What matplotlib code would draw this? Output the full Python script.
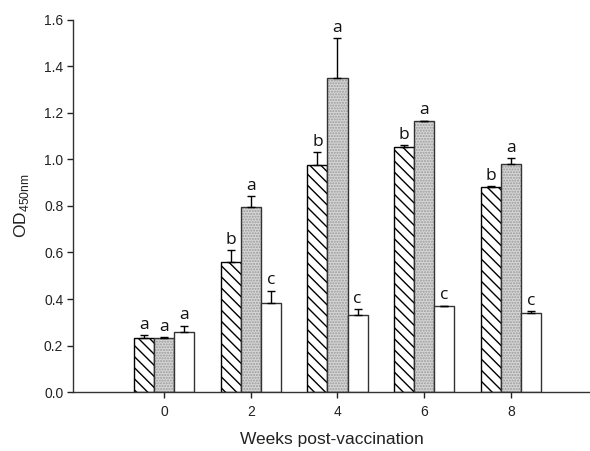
import matplotlib
matplotlib.use('Agg')
import matplotlib.pyplot as plt
import numpy as np

# data
weeks = ['0', '2', '4', '6', '8']
hatched = [0.233, 0.557, 0.976, 1.054, 0.883]
hatched_err = [0.011, 0.053, 0.055, 0.009, 0.002]
dotted = [0.233, 0.796, 1.350, 1.164, 0.979]
dotted_err = [0.002, 0.047, 0.171, 0.003, 0.028]
white = [0.257, 0.381, 0.330, 0.369, 0.340]
white_err = [0.029, 0.055, 0.026, 0.002, 0.009]
letters_h = ['a', 'b', 'b', 'b', 'b']
letters_d = ['a', 'a', 'a', 'a', 'a']
letters_w = ['a', 'c', 'c', 'c', 'c']

plt.rcParams['font.family'] = ['Liberation Sans', 'DejaVu Sans']
plt.rcParams['hatch.linewidth'] = 1.0

fig = plt.figure(figsize=(5.9, 4.51), dpi=100)
ax = fig.add_axes([0.1237, 0.1308, 0.8763, 0.8249])

x = np.arange(len(weeks))
w = 0.232
dark = '#333333'
errkw = dict(ecolor='black', elinewidth=1.0, capsize=3, capthick=1.0)

# hatched series
ax.bar(x - w, hatched, w, color='white', edgecolor='black', hatch='\\\\\\',
       linewidth=1.0, zorder=2)
ax.errorbar(x - w, hatched, yerr=[np.zeros(5), hatched_err], fmt='none', zorder=3, **errkw)

# dotted series: stipple then outline
ax.bar(x, dotted, w, color='#d6d6d6', edgecolor='#9a9a9a', hatch='......',
       linewidth=0, zorder=2)
ax.bar(x, dotted, w, fill=False, edgecolor=dark, linewidth=1.0, zorder=2)
ax.errorbar(x, dotted, yerr=[np.zeros(5), dotted_err], fmt='none', zorder=3, **errkw)

# open series
ax.bar(x + w, white, w, color='white', edgecolor=dark, linewidth=1.0, zorder=2)
ax.errorbar(x + w, white, yerr=[np.zeros(5), white_err], fmt='none', zorder=3, **errkw)

# significance letters
for xs, vals, errs, labs in [(x - w, hatched, hatched_err, letters_h),
                             (x, dotted, dotted_err, letters_d),
                             (x + w, white, white_err, letters_w)]:
    for xi, v, e, l in zip(xs, vals, errs, labs):
        ax.text(xi, v + e + 0.01, l, ha='center', va='bottom', fontsize=12.5,
                family=['Open Sans', 'DejaVu Sans'], color='#111111')

ax.set_xlim(-1.049, 4.911)
ax.set_ylim(0, 1.6)
ax.set_xticks(x)
ax.set_xticklabels(weeks)
ax.set_yticks(np.arange(0, 1.61, 0.2))
ax.set_yticklabels(['%.1f' % v for v in np.arange(0, 1.61, 0.2)])
ax.tick_params(axis='both', labelsize=10, colors='#222222', length=4.5, width=1,
               direction='out')
ax.tick_params(axis='y', pad=2.5)
ax.tick_params(axis='x', pad=5)

for s in ['top', 'right']:
    ax.spines[s].set_visible(False)
for s in ['left', 'bottom']:
    ax.spines[s].set_color(dark)
    ax.spines[s].set_linewidth(1.0)

ax.set_xlabel('Weeks post-vaccination', fontsize=12.5, color='#222222', labelpad=9)
ax.set_ylabel('OD$_{\\mathregular{450nm}}$', fontsize=12.5, color='#222222', labelpad=9)

fig.savefig('out.png', dpi=100)
